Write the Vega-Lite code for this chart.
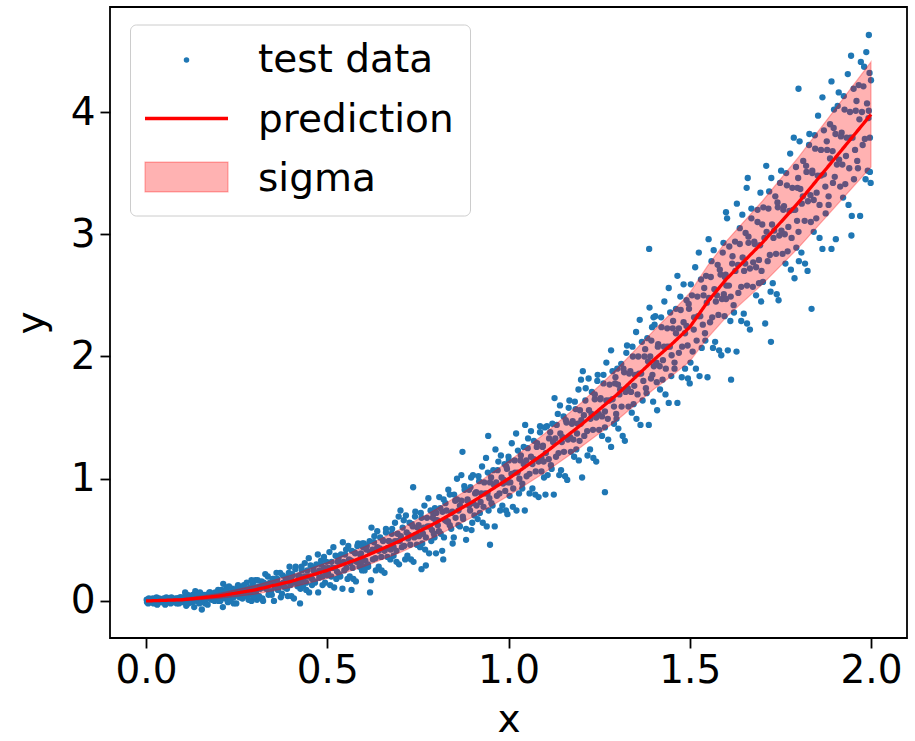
{
"$schema":"https://vega.github.io/schema/vega-lite/v6.json",
"width":797,"height":631,
"autosize":{"type":"none"},
"padding":{"left":110,"top":7,"right":8,"bottom":103},
"config":{
"view":{"stroke":"black","strokeWidth":1.8},
"font":"DejaVu Sans",
"axis":{"grid":false,"domain":false,"tickColor":"black","tickWidth":1.8,"tickSize":10,"labelFontSize":39,"labelColor":"black","titleFontSize":39,"titleFontWeight":"normal","titleColor":"black","labelFont":"DejaVu Sans","titleFont":"DejaVu Sans"}
},
"datasets":{
"fit":[
{"x":0,"pred":0,"lo":0,"hi":0},
{"x":0.1,"pred":0.01,"lo":0.0,"hi":0.02},
{"x":0.2,"pred":0.04,"lo":0.02,"hi":0.06},
{"x":0.3,"pred":0.09,"lo":0.055,"hi":0.125},
{"x":0.4,"pred":0.16,"lo":0.11,"hi":0.21},
{"x":0.5,"pred":0.25,"lo":0.185,"hi":0.315},
{"x":0.6,"pred":0.36,"lo":0.28,"hi":0.44},
{"x":0.7,"pred":0.49,"lo":0.395,"hi":0.585},
{"x":0.8,"pred":0.64,"lo":0.53,"hi":0.75},
{"x":0.9,"pred":0.81,"lo":0.685,"hi":0.935},
{"x":1.0,"pred":1.0,"lo":0.86,"hi":1.14},
{"x":1.1,"pred":1.21,"lo":1.05,"hi":1.37},
{"x":1.2,"pred":1.44,"lo":1.26,"hi":1.62},
{"x":1.3,"pred":1.69,"lo":1.48,"hi":1.9},
{"x":1.4,"pred":1.97,"lo":1.73,"hi":2.21},
{"x":1.45,"pred":2.1,"lo":1.84,"hi":2.36},
{"x":1.5,"pred":2.24,"lo":1.96,"hi":2.52},
{"x":1.55,"pred":2.45,"lo":2.155,"hi":2.745},
{"x":1.6,"pred":2.63,"lo":2.32,"hi":2.94},
{"x":1.7,"pred":2.93,"lo":2.59,"hi":3.27},
{"x":1.8,"pred":3.26,"lo":2.89,"hi":3.63},
{"x":1.9,"pred":3.62,"lo":3.22,"hi":4.02},
{"x":2.0,"pred":3.98,"lo":3.55,"hi":4.41}
],
"pts":[
{"x":0.002,"y":0.01},{"x":0.006,"y":-0.02},{"x":0.011,"y":0.01},{"x":0.015,"y":0.0},{"x":0.019,"y":0.02},{"x":0.023,"y":-0.01},{"x":0.027,"y":0.0},{"x":0.031,"y":-0.03},{"x":0.036,"y":0.02},{"x":0.04,"y":0.0},{"x":0.043,"y":0.01},{"x":0.047,"y":-0.01},{"x":0.052,"y":0.01},{"x":0.056,"y":0.03},{"x":0.06,"y":0.0},{"x":0.064,"y":0.02},{"x":0.068,"y":-0.02},{"x":0.072,"y":0.01},{"x":0.077,"y":0.01},{"x":0.081,"y":0.02},{"x":0.085,"y":-0.02},{"x":0.089,"y":0.02},{"x":0.093,"y":0.01},{"x":0.096,"y":0.03},{"x":0.099,"y":0.0},
{"x":0.102,"y":-0.01},{"x":0.106,"y":0.01},{"x":0.111,"y":-0.04},{"x":0.115,"y":0.05},{"x":0.119,"y":0.0},{"x":0.123,"y":0.04},{"x":0.127,"y":-0.01},{"x":0.131,"y":0.02},{"x":0.136,"y":0.08},{"x":0.14,"y":0.0},{"x":0.143,"y":0.06},{"x":0.147,"y":-0.02},{"x":0.152,"y":0.03},{"x":0.156,"y":0.02},{"x":0.16,"y":0.05},{"x":0.164,"y":-0.02},{"x":0.168,"y":0.05},{"x":0.172,"y":0.02},{"x":0.177,"y":0.07},{"x":0.181,"y":0.01},{"x":0.185,"y":0.05},{"x":0.189,"y":0.0},{"x":0.193,"y":0.06},{"x":0.196,"y":0.03},{"x":0.199,"y":0.09},{"x":0.154,"y":-0.07},
{"x":0.201,"y":0.07},{"x":0.205,"y":0.0},{"x":0.209,"y":0.05},{"x":0.213,"y":0.14},{"x":0.218,"y":0.02},{"x":0.222,"y":0.11},{"x":0.226,"y":-0.01},{"x":0.23,"y":0.07},{"x":0.234,"y":0.05},{"x":0.238,"y":0.1},{"x":0.242,"y":-0.02},{"x":0.246,"y":0.09},{"x":0.25,"y":0.05},{"x":0.254,"y":0.13},{"x":0.258,"y":0.03},{"x":0.262,"y":0.09},{"x":0.266,"y":0.02},{"x":0.27,"y":0.11},{"x":0.274,"y":0.06},{"x":0.278,"y":0.15},{"x":0.283,"y":0.05},{"x":0.287,"y":0.08},{"x":0.291,"y":0.0},{"x":0.295,"y":0.14},{"x":0.298,"y":0.07},
{"x":0.302,"y":0.17},{"x":0.306,"y":0.01},{"x":0.311,"y":0.12},{"x":0.315,"y":0.1},{"x":0.319,"y":0.16},{"x":0.323,"y":0.0},{"x":0.327,"y":0.14},{"x":0.331,"y":0.1},{"x":0.336,"y":0.2},{"x":0.34,"y":0.07},{"x":0.343,"y":0.14},{"x":0.347,"y":0.05},{"x":0.352,"y":0.18},{"x":0.356,"y":0.11},{"x":0.36,"y":0.23},{"x":0.364,"y":0.09},{"x":0.368,"y":0.14},{"x":0.372,"y":0.03},{"x":0.377,"y":0.21},{"x":0.381,"y":0.12},{"x":0.385,"y":0.19},{"x":0.389,"y":0.1},{"x":0.393,"y":0.17},{"x":0.396,"y":0.28},{"x":0.399,"y":0.13},
{"x":0.401,"y":0.04},{"x":0.405,"y":0.21},{"x":0.409,"y":0.15},{"x":0.413,"y":0.28},{"x":0.418,"y":0.12},{"x":0.422,"y":0.21},{"x":0.426,"y":0.1},{"x":0.43,"y":0.25},{"x":0.434,"y":0.17},{"x":0.438,"y":0.31},{"x":0.442,"y":0.15},{"x":0.446,"y":0.2},{"x":0.45,"y":0.07},{"x":0.454,"y":0.29},{"x":0.458,"y":0.18},{"x":0.462,"y":0.27},{"x":0.466,"y":0.15},{"x":0.47,"y":0.23},{"x":0.474,"y":0.38},{"x":0.478,"y":0.19},{"x":0.483,"y":0.33},{"x":0.487,"y":0.13},{"x":0.491,"y":0.27},{"x":0.495,"y":0.24},{"x":0.498,"y":0.32},{"x":0.425,"y":-0.02},
{"x":0.502,"y":0.23},{"x":0.506,"y":0.4},{"x":0.511,"y":0.2},{"x":0.515,"y":0.27},{"x":0.519,"y":0.11},{"x":0.523,"y":0.37},{"x":0.527,"y":0.24},{"x":0.531,"y":0.35},{"x":0.536,"y":0.2},{"x":0.54,"y":0.31},{"x":0.543,"y":0.48},{"x":0.547,"y":0.25},{"x":0.552,"y":0.42},{"x":0.556,"y":0.18},{"x":0.56,"y":0.34},{"x":0.564,"y":0.31},{"x":0.568,"y":0.41},{"x":0.572,"y":0.18},{"x":0.577,"y":0.39},{"x":0.581,"y":0.32},{"x":0.585,"y":0.47},{"x":0.589,"y":0.28},{"x":0.593,"y":0.39},{"x":0.596,"y":0.25},{"x":0.599,"y":0.44},{"x":0.567,"y":0.09},
{"x":0.601,"y":0.47},{"x":0.605,"y":0.33},{"x":0.609,"y":0.45},{"x":0.613,"y":0.28},{"x":0.618,"y":0.4},{"x":0.622,"y":0.6},{"x":0.626,"y":0.34},{"x":0.63,"y":0.53},{"x":0.634,"y":0.25},{"x":0.638,"y":0.44},{"x":0.642,"y":0.41},{"x":0.646,"y":0.52},{"x":0.65,"y":0.25},{"x":0.654,"y":0.49},{"x":0.658,"y":0.41},{"x":0.662,"y":0.59},{"x":0.666,"y":0.36},{"x":0.67,"y":0.49},{"x":0.674,"y":0.34},{"x":0.678,"y":0.55},{"x":0.683,"y":0.44},{"x":0.687,"y":0.64},{"x":0.691,"y":0.41},{"x":0.695,"y":0.49},{"x":0.698,"y":0.3},{"x":0.618,"y":0.07},
{"x":0.702,"y":0.74},{"x":0.706,"y":0.44},{"x":0.711,"y":0.66},{"x":0.715,"y":0.34},{"x":0.719,"y":0.56},{"x":0.723,"y":0.51},{"x":0.727,"y":0.64},{"x":0.731,"y":0.34},{"x":0.736,"y":0.61},{"x":0.74,"y":0.52},{"x":0.743,"y":0.73},{"x":0.747,"y":0.46},{"x":0.752,"y":0.62},{"x":0.756,"y":0.44},{"x":0.76,"y":0.68},{"x":0.764,"y":0.55},{"x":0.768,"y":0.78},{"x":0.772,"y":0.52},{"x":0.777,"y":0.61},{"x":0.781,"y":0.39},{"x":0.785,"y":0.74},{"x":0.789,"y":0.58},{"x":0.793,"y":0.71},{"x":0.796,"y":0.52},{"x":0.799,"y":0.66},{"x":0.737,"y":0.93},{"x":0.76,"y":0.26},{"x":0.772,"y":0.29},
{"x":0.801,"y":0.72},{"x":0.805,"y":0.62},{"x":0.809,"y":0.85},{"x":0.813,"y":0.55},{"x":0.818,"y":0.73},{"x":0.822,"y":0.52},{"x":0.826,"y":0.8},{"x":0.83,"y":0.65},{"x":0.834,"y":0.91},{"x":0.838,"y":0.62},{"x":0.842,"y":0.72},{"x":0.846,"y":0.47},{"x":0.85,"y":0.87},{"x":0.854,"y":0.68},{"x":0.858,"y":0.83},{"x":0.862,"y":0.62},{"x":0.866,"y":0.78},{"x":0.87,"y":1.03},{"x":0.874,"y":0.69},{"x":0.878,"y":0.94},{"x":0.883,"y":0.59},{"x":0.887,"y":0.83},{"x":0.891,"y":0.78},{"x":0.895,"y":0.93},{"x":0.898,"y":0.58},{"x":0.82,"y":0.34},{"x":0.873,"y":1.22},
{"x":0.902,"y":1.03},{"x":0.906,"y":0.7},{"x":0.911,"y":0.89},{"x":0.915,"y":0.67},{"x":0.919,"y":0.98},{"x":0.923,"y":0.81},{"x":0.927,"y":1.1},{"x":0.931,"y":0.77},{"x":0.936,"y":0.88},{"x":0.94,"y":0.61},{"x":0.943,"y":1.05},{"x":0.947,"y":0.84},{"x":0.952,"y":1.01},{"x":0.956,"y":0.78},{"x":0.96,"y":0.95},{"x":0.964,"y":1.24},{"x":0.968,"y":0.86},{"x":0.972,"y":1.14},{"x":0.977,"y":0.74},{"x":0.981,"y":1.01},{"x":0.985,"y":0.96},{"x":0.989,"y":1.12},{"x":0.993,"y":0.74},{"x":0.996,"y":1.08},{"x":0.999,"y":0.97},{"x":0.944,"y":1.35},{"x":0.949,"y":0.46},
{"x":1.001,"y":1.15},{"x":1.005,"y":0.97},{"x":1.009,"y":1.29},{"x":1.013,"y":0.92},{"x":1.018,"y":1.05},{"x":1.022,"y":0.74},{"x":1.026,"y":1.23},{"x":1.03,"y":1.0},{"x":1.034,"y":1.19},{"x":1.038,"y":0.92},{"x":1.042,"y":1.12},{"x":1.046,"y":1.44},{"x":1.05,"y":1.02},{"x":1.054,"y":1.33},{"x":1.058,"y":0.88},{"x":1.062,"y":1.18},{"x":1.066,"y":1.12},{"x":1.07,"y":1.31},{"x":1.074,"y":0.87},{"x":1.078,"y":1.26},{"x":1.083,"y":1.14},{"x":1.087,"y":1.43},{"x":1.091,"y":1.06},{"x":1.095,"y":1.27},{"x":1.098,"y":1.01},
{"x":1.102,"y":0.87},{"x":1.106,"y":1.43},{"x":1.111,"y":1.16},{"x":1.115,"y":1.38},{"x":1.119,"y":1.08},{"x":1.123,"y":1.3},{"x":1.127,"y":1.66},{"x":1.131,"y":1.18},{"x":1.136,"y":1.53},{"x":1.14,"y":1.03},{"x":1.143,"y":1.37},{"x":1.147,"y":1.3},{"x":1.152,"y":1.51},{"x":1.156,"y":1.02},{"x":1.16,"y":1.46},{"x":1.164,"y":1.32},{"x":1.168,"y":1.64},{"x":1.172,"y":1.22},{"x":1.177,"y":1.47},{"x":1.181,"y":1.18},{"x":1.185,"y":1.57},{"x":1.189,"y":1.37},{"x":1.193,"y":1.73},{"x":1.196,"y":1.31},{"x":1.199,"y":1.45},
{"x":1.201,"y":1.48},{"x":1.205,"y":1.88},{"x":1.209,"y":1.35},{"x":1.213,"y":1.74},{"x":1.218,"y":1.19},{"x":1.222,"y":1.56},{"x":1.226,"y":1.49},{"x":1.23,"y":1.71},{"x":1.234,"y":1.17},{"x":1.238,"y":1.65},{"x":1.242,"y":1.5},{"x":1.246,"y":1.85},{"x":1.25,"y":1.4},{"x":1.254,"y":1.66},{"x":1.258,"y":1.35},{"x":1.262,"y":1.78},{"x":1.266,"y":1.55},{"x":1.27,"y":1.95},{"x":1.274,"y":1.49},{"x":1.278,"y":1.64},{"x":1.283,"y":1.26},{"x":1.287,"y":1.88},{"x":1.291,"y":1.59},{"x":1.295,"y":1.83},{"x":1.298,"y":1.49},{"x":1.266,"y":0.89},
{"x":1.302,"y":1.77},{"x":1.306,"y":1.69},{"x":1.311,"y":1.94},{"x":1.315,"y":1.35},{"x":1.319,"y":1.87},{"x":1.323,"y":1.71},{"x":1.327,"y":2.09},{"x":1.331,"y":1.59},{"x":1.336,"y":1.88},{"x":1.34,"y":1.54},{"x":1.343,"y":2.0},{"x":1.347,"y":1.76},{"x":1.352,"y":2.2},{"x":1.356,"y":1.69},{"x":1.36,"y":1.86},{"x":1.364,"y":1.44},{"x":1.368,"y":2.12},{"x":1.372,"y":1.8},{"x":1.377,"y":2.06},{"x":1.381,"y":1.7},{"x":1.385,"y":1.96},{"x":1.389,"y":2.4},{"x":1.393,"y":1.82},{"x":1.396,"y":2.24},{"x":1.399,"y":1.63},{"x":1.388,"y":2.88},
{"x":1.401,"y":1.92},{"x":1.405,"y":2.33},{"x":1.409,"y":1.79},{"x":1.413,"y":2.1},{"x":1.418,"y":1.73},{"x":1.422,"y":2.24},{"x":1.426,"y":1.97},{"x":1.43,"y":2.45},{"x":1.434,"y":1.9},{"x":1.438,"y":2.08},{"x":1.442,"y":1.62},{"x":1.446,"y":2.36},{"x":1.45,"y":2.01},{"x":1.454,"y":2.29},{"x":1.458,"y":1.9},{"x":1.462,"y":2.19},{"x":1.466,"y":2.66},{"x":1.47,"y":2.03},{"x":1.474,"y":2.49},{"x":1.478,"y":1.83},{"x":1.483,"y":2.28},{"x":1.487,"y":2.19},{"x":1.491,"y":2.46},{"x":1.495,"y":1.82},{"x":1.498,"y":2.39},{"x":1.41,"y":1.56},
{"x":1.502,"y":1.95},{"x":1.506,"y":2.5},{"x":1.511,"y":2.22},{"x":1.515,"y":2.73},{"x":1.519,"y":2.13},{"x":1.523,"y":2.33},{"x":1.527,"y":1.84},{"x":1.531,"y":2.63},{"x":1.536,"y":2.26},{"x":1.54,"y":2.56},{"x":1.543,"y":2.13},{"x":1.547,"y":2.44},{"x":1.552,"y":2.96},{"x":1.556,"y":2.28},{"x":1.56,"y":2.78},{"x":1.564,"y":2.07},{"x":1.568,"y":2.55},{"x":1.572,"y":2.45},{"x":1.577,"y":2.75},{"x":1.581,"y":2.05},{"x":1.585,"y":2.67},{"x":1.589,"y":2.47},{"x":1.593,"y":2.93},{"x":1.596,"y":2.33},{"x":1.599,"y":2.67},
{"x":1.601,"y":2.58},{"x":1.605,"y":2.05},{"x":1.609,"y":2.9},{"x":1.613,"y":2.49},{"x":1.618,"y":2.82},{"x":1.622,"y":2.36},{"x":1.626,"y":2.7},{"x":1.63,"y":3.25},{"x":1.634,"y":2.52},{"x":1.638,"y":3.05},{"x":1.642,"y":2.29},{"x":1.646,"y":2.81},{"x":1.65,"y":2.7},{"x":1.654,"y":3.01},{"x":1.658,"y":2.27},{"x":1.662,"y":2.93},{"x":1.666,"y":2.72},{"x":1.67,"y":3.21},{"x":1.674,"y":2.57},{"x":1.678,"y":2.94},{"x":1.683,"y":2.5},{"x":1.687,"y":3.1},{"x":1.691,"y":2.79},{"x":1.695,"y":3.34},{"x":1.698,"y":2.7},{"x":1.614,"y":1.81},{"x":1.66,"y":3.46},{"x":1.657,"y":3.38},{"x":1.6,"y":3.18},
{"x":1.702,"y":2.61},{"x":1.706,"y":2.97},{"x":1.711,"y":3.56},{"x":1.715,"y":2.78},{"x":1.719,"y":3.35},{"x":1.723,"y":2.53},{"x":1.727,"y":3.08},{"x":1.731,"y":2.97},{"x":1.736,"y":3.31},{"x":1.74,"y":2.51},{"x":1.743,"y":3.22},{"x":1.747,"y":2.99},{"x":1.752,"y":3.52},{"x":1.756,"y":2.84},{"x":1.76,"y":3.23},{"x":1.764,"y":2.76},{"x":1.768,"y":3.4},{"x":1.772,"y":3.06},{"x":1.777,"y":3.66},{"x":1.781,"y":2.97},{"x":1.785,"y":3.2},{"x":1.789,"y":2.64},{"x":1.793,"y":3.55},{"x":1.796,"y":3.11},{"x":1.799,"y":3.46},{"x":1.724,"y":2.12},{"x":1.8,"y":4.19},
{"x":1.801,"y":2.78},{"x":1.805,"y":3.37},{"x":1.809,"y":3.25},{"x":1.813,"y":3.6},{"x":1.818,"y":2.76},{"x":1.822,"y":3.51},{"x":1.826,"y":3.27},{"x":1.83,"y":3.82},{"x":1.834,"y":3.1},{"x":1.838,"y":3.52},{"x":1.842,"y":3.02},{"x":1.846,"y":3.7},{"x":1.85,"y":3.34},{"x":1.854,"y":3.97},{"x":1.858,"y":3.24},{"x":1.862,"y":3.48},{"x":1.866,"y":2.88},{"x":1.87,"y":3.85},{"x":1.874,"y":3.39},{"x":1.878,"y":3.76},{"x":1.883,"y":3.24},{"x":1.887,"y":3.62},{"x":1.891,"y":4.25},{"x":1.895,"y":3.42},{"x":1.898,"y":4.02},{"x":1.836,"y":2.39},
{"x":1.902,"y":3.82},{"x":1.906,"y":3.57},{"x":1.911,"y":4.16},{"x":1.915,"y":3.39},{"x":1.919,"y":3.83},{"x":1.923,"y":3.3},{"x":1.927,"y":4.02},{"x":1.931,"y":3.64},{"x":1.936,"y":4.31},{"x":1.94,"y":3.54},{"x":1.943,"y":3.79},{"x":1.947,"y":3.15},{"x":1.952,"y":4.19},{"x":1.956,"y":3.69},{"x":1.96,"y":4.09},{"x":1.964,"y":3.54},{"x":1.968,"y":3.94},{"x":1.972,"y":4.41},{"x":1.977,"y":3.73},{"x":1.981,"y":4.37},{"x":1.985,"y":3.45},{"x":1.989,"y":4.07},{"x":1.993,"y":3.95},{"x":1.996,"y":4.32},{"x":1.999,"y":3.42},{"x":1.994,"y":4.63},{"x":1.946,"y":2.99},{"x":1.997,"y":3.51},
{"x":0.003,"y":-0.01},{"x":0.008,"y":0.02},{"x":0.012,"y":-0.01},{"x":0.017,"y":0.0},{"x":0.021,"y":-0.02},{"x":0.025,"y":0.01},{"x":0.029,"y":0.03},{"x":0.033,"y":0.0},{"x":0.038,"y":-0.01},{"x":0.042,"y":0.01},{"x":0.045,"y":-0.01},{"x":0.049,"y":0.02},{"x":0.053,"y":-0.03},{"x":0.058,"y":0.01},{"x":0.062,"y":0.02},{"x":0.066,"y":0.0},{"x":0.07,"y":0.03},{"x":0.075,"y":-0.01},{"x":0.079,"y":0.01},{"x":0.083,"y":0.0},{"x":0.087,"y":0.02},{"x":0.091,"y":-0.02},{"x":0.094,"y":0.03},{"x":0.097,"y":0.01},{"x":0.1,"y":0.02},
{"x":0.103,"y":0.03},{"x":0.108,"y":0.07},{"x":0.112,"y":0.01},{"x":0.117,"y":-0.02},{"x":0.121,"y":0.03},{"x":0.125,"y":-0.01},{"x":0.129,"y":0.05},{"x":0.133,"y":-0.05},{"x":0.138,"y":0.03},{"x":0.142,"y":0.05},{"x":0.145,"y":0.01},{"x":0.149,"y":0.07},{"x":0.153,"y":-0.01},{"x":0.158,"y":0.03},{"x":0.162,"y":0.01},{"x":0.166,"y":0.05},{"x":0.17,"y":-0.03},{"x":0.175,"y":0.07},{"x":0.179,"y":0.03},{"x":0.183,"y":0.04},{"x":0.187,"y":0.02},{"x":0.191,"y":0.07},{"x":0.194,"y":0.01},{"x":0.197,"y":0.04},{"x":0.2,"y":0.0},
{"x":0.203,"y":0.01},{"x":0.208,"y":0.09},{"x":0.212,"y":-0.05},{"x":0.217,"y":0.06},{"x":0.221,"y":0.09},{"x":0.225,"y":0.03},{"x":0.229,"y":0.12},{"x":0.233,"y":0.0},{"x":0.238,"y":0.06},{"x":0.242,"y":0.03},{"x":0.245,"y":0.09},{"x":0.249,"y":-0.02},{"x":0.253,"y":0.12},{"x":0.258,"y":0.06},{"x":0.262,"y":0.08},{"x":0.266,"y":0.05},{"x":0.27,"y":0.13},{"x":0.275,"y":0.04},{"x":0.279,"y":0.08},{"x":0.283,"y":0.01},{"x":0.287,"y":0.11},{"x":0.291,"y":0.17},{"x":0.294,"y":0.09},{"x":0.297,"y":0.04},{"x":0.3,"y":0.11},
{"x":0.303,"y":0.07},{"x":0.308,"y":0.17},{"x":0.312,"y":0.04},{"x":0.317,"y":0.11},{"x":0.321,"y":0.02},{"x":0.325,"y":0.15},{"x":0.329,"y":0.22},{"x":0.333,"y":0.11},{"x":0.338,"y":0.05},{"x":0.342,"y":0.15},{"x":0.345,"y":0.08},{"x":0.349,"y":0.18},{"x":0.353,"y":0.0},{"x":0.358,"y":0.14},{"x":0.362,"y":0.18},{"x":0.366,"y":0.11},{"x":0.37,"y":0.23},{"x":0.375,"y":0.06},{"x":0.379,"y":0.15},{"x":0.383,"y":0.11},{"x":0.387,"y":0.19},{"x":0.391,"y":0.04},{"x":0.394,"y":0.23},{"x":0.397,"y":0.15},{"x":0.4,"y":0.18},
{"x":0.403,"y":0.22},{"x":0.408,"y":0.02},{"x":0.412,"y":0.26},{"x":0.417,"y":0.16},{"x":0.421,"y":0.2},{"x":0.425,"y":0.15},{"x":0.429,"y":0.28},{"x":0.433,"y":0.12},{"x":0.438,"y":0.2},{"x":0.442,"y":0.09},{"x":0.445,"y":0.25},{"x":0.449,"y":0.35},{"x":0.453,"y":0.2},{"x":0.458,"y":0.13},{"x":0.462,"y":0.25},{"x":0.466,"y":0.16},{"x":0.47,"y":0.3},{"x":0.475,"y":0.07},{"x":0.479,"y":0.25},{"x":0.483,"y":0.3},{"x":0.487,"y":0.2},{"x":0.491,"y":0.36},{"x":0.494,"y":0.15},{"x":0.497,"y":0.25},{"x":0.5,"y":0.21},
{"x":0.503,"y":0.27},{"x":0.508,"y":0.13},{"x":0.512,"y":0.32},{"x":0.517,"y":0.44},{"x":0.521,"y":0.27},{"x":0.525,"y":0.18},{"x":0.529,"y":0.32},{"x":0.533,"y":0.22},{"x":0.538,"y":0.38},{"x":0.542,"y":0.1},{"x":0.545,"y":0.32},{"x":0.549,"y":0.38},{"x":0.553,"y":0.27},{"x":0.558,"y":0.45},{"x":0.562,"y":0.2},{"x":0.566,"y":0.33},{"x":0.57,"y":0.27},{"x":0.575,"y":0.4},{"x":0.579,"y":0.16},{"x":0.583,"y":0.45},{"x":0.587,"y":0.33},{"x":0.591,"y":0.38},{"x":0.594,"y":0.32},{"x":0.597,"y":0.47},{"x":0.6,"y":0.28},
{"x":0.603,"y":0.25},{"x":0.608,"y":0.42},{"x":0.612,"y":0.3},{"x":0.617,"y":0.49},{"x":0.621,"y":0.17},{"x":0.625,"y":0.42},{"x":0.629,"y":0.48},{"x":0.633,"y":0.35},{"x":0.638,"y":0.57},{"x":0.642,"y":0.28},{"x":0.645,"y":0.43},{"x":0.649,"y":0.36},{"x":0.653,"y":0.5},{"x":0.658,"y":0.23},{"x":0.662,"y":0.56},{"x":0.666,"y":0.43},{"x":0.67,"y":0.49},{"x":0.675,"y":0.42},{"x":0.679,"y":0.59},{"x":0.683,"y":0.37},{"x":0.687,"y":0.49},{"x":0.691,"y":0.32},{"x":0.694,"y":0.55},{"x":0.697,"y":0.69},{"x":0.7,"y":0.49},
{"x":0.703,"y":0.53},{"x":0.708,"y":0.6},{"x":0.712,"y":0.45},{"x":0.717,"y":0.7},{"x":0.721,"y":0.37},{"x":0.725,"y":0.54},{"x":0.729,"y":0.46},{"x":0.733,"y":0.63},{"x":0.738,"y":0.32},{"x":0.742,"y":0.69},{"x":0.745,"y":0.54},{"x":0.749,"y":0.6},{"x":0.753,"y":0.53},{"x":0.758,"y":0.72},{"x":0.762,"y":0.47},{"x":0.766,"y":0.6},{"x":0.77,"y":0.42},{"x":0.775,"y":0.68},{"x":0.779,"y":0.84},{"x":0.783,"y":0.61},{"x":0.787,"y":0.49},{"x":0.791,"y":0.68},{"x":0.794,"y":0.55},{"x":0.797,"y":0.76},{"x":0.8,"y":0.39},
{"x":0.803,"y":0.66},{"x":0.808,"y":0.57},{"x":0.812,"y":0.76},{"x":0.817,"y":0.41},{"x":0.821,"y":0.83},{"x":0.825,"y":0.66},{"x":0.829,"y":0.74},{"x":0.833,"y":0.65},{"x":0.838,"y":0.87},{"x":0.842,"y":0.59},{"x":0.845,"y":0.73},{"x":0.849,"y":0.52},{"x":0.853,"y":0.82},{"x":0.858,"y":1.0},{"x":0.862,"y":0.74},{"x":0.866,"y":0.61},{"x":0.87,"y":0.82},{"x":0.875,"y":0.67},{"x":0.879,"y":0.91},{"x":0.883,"y":0.5},{"x":0.887,"y":0.82},{"x":0.891,"y":0.91},{"x":0.894,"y":0.74},{"x":0.897,"y":1.01},{"x":0.9,"y":0.64},
{"x":0.903,"y":0.8},{"x":0.908,"y":0.88},{"x":0.912,"y":0.78},{"x":0.917,"y":1.02},{"x":0.921,"y":0.72},{"x":0.925,"y":0.88},{"x":0.929,"y":0.64},{"x":0.933,"y":0.97},{"x":0.938,"y":1.17},{"x":0.942,"y":0.88},{"x":0.945,"y":0.74},{"x":0.949,"y":0.97},{"x":0.953,"y":0.8},{"x":0.958,"y":1.07},{"x":0.962,"y":0.61},{"x":0.966,"y":0.97},{"x":0.97,"y":1.07},{"x":0.975,"y":0.88},{"x":0.979,"y":1.19},{"x":0.983,"y":0.78},{"x":0.987,"y":0.99},{"x":0.991,"y":0.9},{"x":0.994,"y":1.1},{"x":0.997,"y":0.71},{"x":1.0,"y":1.18},
{"x":1.003,"y":0.86},{"x":1.008,"y":1.04},{"x":1.012,"y":0.77},{"x":1.017,"y":1.15},{"x":1.021,"y":1.37},{"x":1.025,"y":1.05},{"x":1.029,"y":0.88},{"x":1.033,"y":1.15},{"x":1.038,"y":0.96},{"x":1.042,"y":1.26},{"x":1.045,"y":0.74},{"x":1.049,"y":1.15},{"x":1.053,"y":1.25},{"x":1.058,"y":1.04},{"x":1.062,"y":1.39},{"x":1.066,"y":0.92},{"x":1.07,"y":1.16},{"x":1.075,"y":1.06},{"x":1.079,"y":1.29},{"x":1.083,"y":0.85},{"x":1.087,"y":1.38},{"x":1.091,"y":1.17},{"x":1.094,"y":1.26},{"x":1.097,"y":1.14},{"x":1.1,"y":1.42},
{"x":1.103,"y":1.21},{"x":1.108,"y":1.03},{"x":1.112,"y":1.33},{"x":1.117,"y":1.11},{"x":1.121,"y":1.45},{"x":1.125,"y":0.87},{"x":1.129,"y":1.33},{"x":1.133,"y":1.44},{"x":1.138,"y":1.21},{"x":1.142,"y":1.6},{"x":1.145,"y":1.07},{"x":1.149,"y":1.34},{"x":1.153,"y":1.22},{"x":1.158,"y":1.48},{"x":1.162,"y":0.99},{"x":1.166,"y":1.58},{"x":1.17,"y":1.34},{"x":1.175,"y":1.45},{"x":1.179,"y":1.32},{"x":1.183,"y":1.63},{"x":1.187,"y":1.24},{"x":1.191,"y":1.45},{"x":1.194,"y":1.15},{"x":1.197,"y":1.56},{"x":1.2,"y":1.81},
{"x":1.203,"y":1.01},{"x":1.208,"y":1.52},{"x":1.212,"y":1.64},{"x":1.217,"y":1.39},{"x":1.221,"y":1.82},{"x":1.225,"y":1.24},{"x":1.229,"y":1.53},{"x":1.233,"y":1.4},{"x":1.238,"y":1.69},{"x":1.242,"y":1.14},{"x":1.245,"y":1.8},{"x":1.249,"y":1.53},{"x":1.253,"y":1.65},{"x":1.258,"y":1.51},{"x":1.262,"y":1.85},{"x":1.266,"y":1.42},{"x":1.27,"y":1.64},{"x":1.275,"y":1.32},{"x":1.279,"y":1.77},{"x":1.283,"y":2.05},{"x":1.287,"y":1.65},{"x":1.291,"y":1.45},{"x":1.294,"y":1.78},{"x":1.297,"y":1.53},{"x":1.3,"y":1.9},
{"x":1.303,"y":1.41},{"x":1.308,"y":1.73},{"x":1.312,"y":1.59},{"x":1.317,"y":1.9},{"x":1.321,"y":1.31},{"x":1.325,"y":2.03},{"x":1.329,"y":1.74},{"x":1.333,"y":1.86},{"x":1.338,"y":1.71},{"x":1.342,"y":2.08},{"x":1.345,"y":1.61},{"x":1.349,"y":1.85},{"x":1.353,"y":1.49},{"x":1.358,"y":2.0},{"x":1.362,"y":2.3},{"x":1.366,"y":1.86},{"x":1.37,"y":1.64},{"x":1.375,"y":2.0},{"x":1.379,"y":1.74},{"x":1.383,"y":2.15},{"x":1.387,"y":1.44},{"x":1.391,"y":2.0},{"x":1.394,"y":2.13},{"x":1.397,"y":1.85},{"x":1.4,"y":2.32},
{"x":1.403,"y":2.26},{"x":1.408,"y":1.95},{"x":1.412,"y":2.08},{"x":1.417,"y":1.92},{"x":1.421,"y":2.32},{"x":1.425,"y":1.81},{"x":1.429,"y":2.08},{"x":1.433,"y":1.69},{"x":1.438,"y":2.23},{"x":1.442,"y":2.56},{"x":1.445,"y":2.08},{"x":1.449,"y":1.84},{"x":1.453,"y":2.23},{"x":1.458,"y":1.95},{"x":1.462,"y":2.39},{"x":1.466,"y":1.62},{"x":1.47,"y":2.23},{"x":1.475,"y":2.38},{"x":1.479,"y":2.08},{"x":1.483,"y":2.59},{"x":1.487,"y":1.9},{"x":1.491,"y":2.25},{"x":1.494,"y":2.09},{"x":1.497,"y":2.43},{"x":1.5,"y":1.78},
{"x":1.503,"y":2.59},{"x":1.508,"y":2.04},{"x":1.512,"y":2.32},{"x":1.517,"y":1.9},{"x":1.521,"y":2.49},{"x":1.525,"y":2.85},{"x":1.529,"y":2.33},{"x":1.533,"y":2.07},{"x":1.538,"y":2.5},{"x":1.542,"y":2.19},{"x":1.545,"y":2.66},{"x":1.549,"y":1.83},{"x":1.553,"y":2.48},{"x":1.558,"y":2.65},{"x":1.562,"y":2.32},{"x":1.566,"y":2.87},{"x":1.57,"y":2.12},{"x":1.575,"y":2.5},{"x":1.579,"y":2.34},{"x":1.583,"y":2.71},{"x":1.587,"y":2.01},{"x":1.591,"y":2.85},{"x":1.594,"y":2.51},{"x":1.597,"y":2.65},{"x":1.6,"y":2.47},
{"x":1.603,"y":3.13},{"x":1.608,"y":2.58},{"x":1.612,"y":2.29},{"x":1.617,"y":2.76},{"x":1.621,"y":2.42},{"x":1.625,"y":2.94},{"x":1.629,"y":2.04},{"x":1.633,"y":2.75},{"x":1.638,"y":2.92},{"x":1.642,"y":2.57},{"x":1.645,"y":3.16},{"x":1.649,"y":2.35},{"x":1.653,"y":2.76},{"x":1.658,"y":2.58},{"x":1.662,"y":2.98},{"x":1.666,"y":2.22},{"x":1.67,"y":3.13},{"x":1.675,"y":2.77},{"x":1.679,"y":2.92},{"x":1.683,"y":2.73},{"x":1.687,"y":3.2},{"x":1.691,"y":2.6},{"x":1.694,"y":2.91},{"x":1.697,"y":2.45},{"x":1.7,"y":3.08},
{"x":1.703,"y":3.22},{"x":1.708,"y":2.27},{"x":1.712,"y":3.02},{"x":1.717,"y":3.21},{"x":1.721,"y":2.83},{"x":1.725,"y":3.46},{"x":1.729,"y":2.6},{"x":1.733,"y":3.03},{"x":1.738,"y":2.84},{"x":1.742,"y":3.26},{"x":1.745,"y":2.46},{"x":1.749,"y":3.42},{"x":1.753,"y":3.03},{"x":1.758,"y":3.2},{"x":1.762,"y":3.0},{"x":1.766,"y":3.5},{"x":1.77,"y":2.86},{"x":1.775,"y":3.19},{"x":1.779,"y":2.71},{"x":1.783,"y":3.38},{"x":1.787,"y":3.79},{"x":1.791,"y":3.2},{"x":1.794,"y":2.89},{"x":1.797,"y":3.38},{"x":1.8,"y":3.02},
{"x":1.803,"y":3.76},{"x":1.808,"y":2.85},{"x":1.812,"y":3.31},{"x":1.817,"y":3.11},{"x":1.821,"y":3.56},{"x":1.825,"y":2.7},{"x":1.829,"y":3.73},{"x":1.833,"y":3.32},{"x":1.838,"y":3.5},{"x":1.842,"y":3.28},{"x":1.845,"y":3.81},{"x":1.849,"y":3.13},{"x":1.853,"y":3.48},{"x":1.858,"y":2.97},{"x":1.862,"y":3.69},{"x":1.866,"y":4.12},{"x":1.87,"y":3.49},{"x":1.875,"y":3.17},{"x":1.879,"y":3.69},{"x":1.883,"y":3.31},{"x":1.887,"y":3.9},{"x":1.891,"y":2.88},{"x":1.894,"y":3.68},{"x":1.897,"y":3.87},{"x":1.9,"y":3.47},
{"x":1.903,"y":2.96},{"x":1.908,"y":4.05},{"x":1.912,"y":3.61},{"x":1.917,"y":3.8},{"x":1.921,"y":3.57},{"x":1.925,"y":4.13},{"x":1.929,"y":3.41},{"x":1.933,"y":3.79},{"x":1.938,"y":3.24},{"x":1.942,"y":4.0},{"x":1.945,"y":4.46},{"x":1.949,"y":3.79},{"x":1.953,"y":3.45},{"x":1.958,"y":4.01},{"x":1.962,"y":3.6},{"x":1.966,"y":4.22},{"x":1.97,"y":3.15},{"x":1.975,"y":4.0},{"x":1.979,"y":4.21},{"x":1.983,"y":3.78},{"x":1.987,"y":4.49},{"x":1.991,"y":3.52},{"x":1.994,"y":4.01},{"x":1.997,"y":3.79},{"x":2.0,"y":4.26}
]
},
"layer":[
{"data":{"name":"pts"},
"mark":{"type":"circle","size":40,"opacity":1},
"encoding":{
"x":{"field":"x","type":"quantitative","scale":{"domain":[-0.0993,2.0993],"nice":false,"zero":false},"axis":{"values":[0,0.5,1,1.5,2],"format":".1f","title":"x","labelPadding":3,"titlePadding":10}},
"y":{"field":"y","type":"quantitative","scale":{"domain":[-0.303,4.859],"nice":false,"zero":false},"axis":{"values":[0,1,2,3,4],"format":"d","title":"y","labelPadding":5,"titlePadding":19}},
"color":{"datum":"test data","type":"nominal","scale":{"domain":["test data","prediction","sigma"],"range":["#1f77b4","transparent","transparent"]},
"legend":{"title":null,"orient":"none","legendX":20,"legendY":17.5,"padding":16,"symbolType":"circle","symbolSize":30,"symbolStrokeWidth":0,"symbolOffset":21,"labelOffset":52,"rowPadding":19.5,"labelFontSize":39,"labelFont":"DejaVu Sans","labelColor":"black","labelLimit":500,"fillColor":"rgba(255,255,255,0.8)","strokeColor":"#cccccc","cornerRadius":6}
}}},
{"data":{"name":"fit"},
"mark":{"type":"area","stroke":"rgba(255,0,0,0.3)","strokeWidth":1.2},
"encoding":{"x":{"field":"x","type":"quantitative"},"y":{"field":"lo","type":"quantitative"},"y2":{"field":"hi"},
"fill":{"datum":"sigma","type":"nominal","scale":{"domain":["sigma"],"range":["rgba(255,0,0,0.3)"]},
"legend":{"title":null,"orient":"none","legendX":34,"legendY":127.5,"padding":0,"symbolOffset":0,"symbolType":"M-1,-0.36H1V0.36H-1Z","symbolSize":6889,"symbolStrokeWidth":1.2,"symbolStrokeColor":"rgba(255,0,0,0.3)","labelExpr":"''","labelFontSize":1,"labelOffset":0}}}},
{"data":{"name":"fit"},
"mark":{"type":"line","color":"#ff0000","strokeWidth":3.3},
"encoding":{"x":{"field":"x","type":"quantitative"},"y":{"field":"pred","type":"quantitative"},
"strokeDash":{"datum":"prediction","type":"nominal","scale":{"domain":["prediction"],"range":[[1,0]]},
"legend":{"title":null,"orient":"none","legendX":33,"legendY":68,"padding":0,"symbolOffset":0,"symbolType":"stroke","symbolSize":6889,"symbolStrokeWidth":3.3,"symbolStrokeColor":"#ff0000","labelExpr":"''","labelFontSize":1,"labelOffset":0}}}}
]
}
